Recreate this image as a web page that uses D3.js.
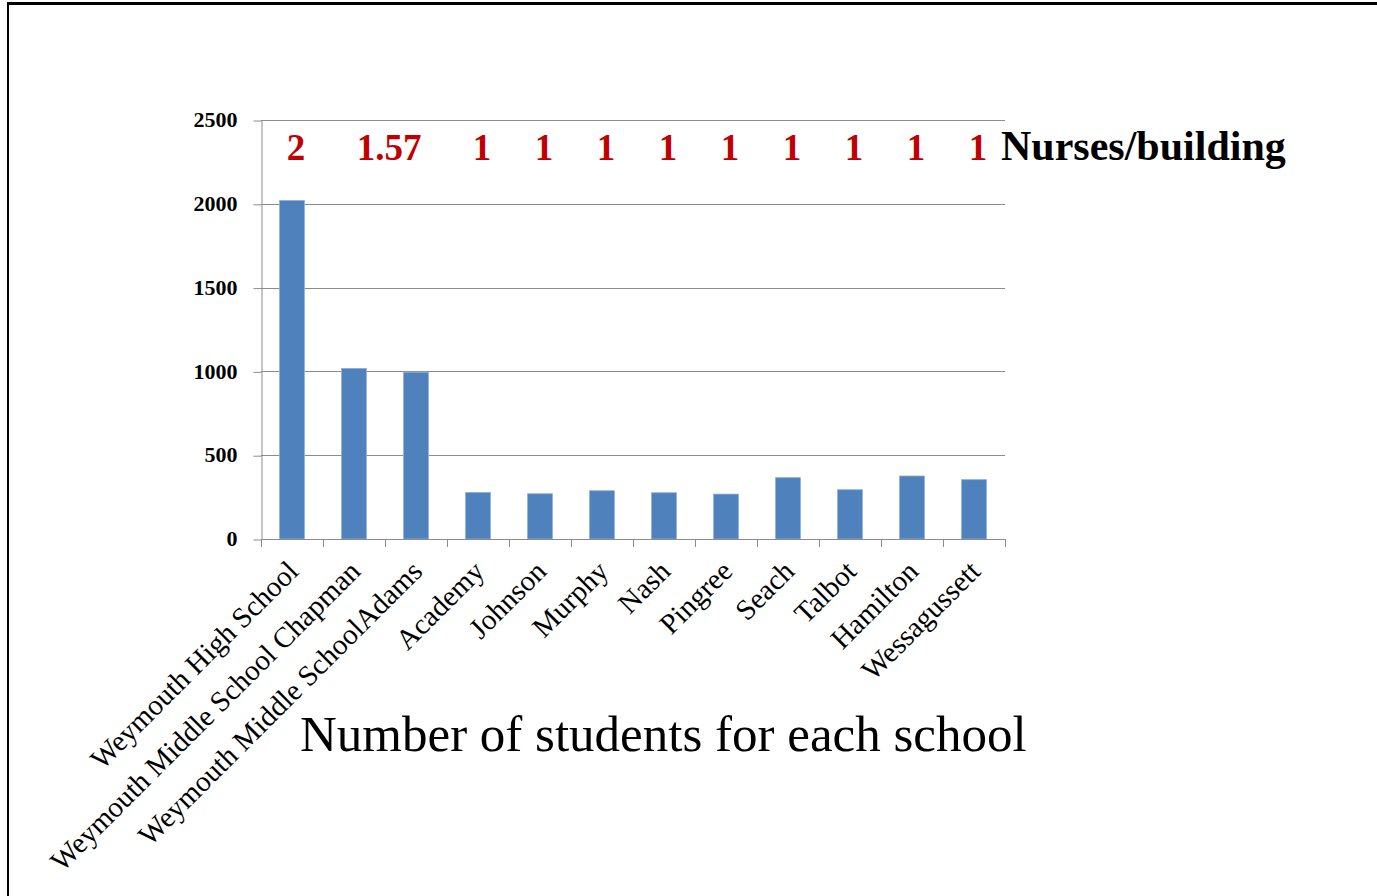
<!DOCTYPE html>
<html>
<head>
<meta charset="utf-8">
<script src="https://cdn.jsdelivr.net/npm/d3@7"></script>
<style>
  body { margin: 0; background: #fff; }
  text { font-family: "Liberation Serif", "DejaVu Serif", serif; }
</style>
</head>
<body>
<div id="chart"></div>
<script>
// Data
const schools = [
    "Weymouth High School", "Weymouth Middle School Chapman", "Weymouth Middle SchoolAdams",
    "Academy", "Johnson", "Murphy", "Nash", "Pingree",
    "Seach", "Talbot", "Hamilton", "Wessagussett"
];
const students = [2020, 1018, 995, 278, 270, 288, 276, 268, 366, 294, 376, 354];
// nurses per building, and which schools each figure sits over
const nurses = ["2", "1.57", "1", "1", "1", "1", "1", "1", "1", "1", "1"];
const nurseGroups = [
    ["Weymouth High School"],
    ["Weymouth Middle School Chapman", "Weymouth Middle SchoolAdams"],
    ["Academy"], ["Johnson"], ["Murphy"], ["Nash"], ["Pingree"],
    ["Seach"], ["Talbot"], ["Hamilton"], ["Wessagussett"]
];
const yTicks = [0, 500, 1000, 1500, 2000, 2500];
const nursesLabel = "Nurses/building";
const chartTitle = "Number of students for each school";

const W = 1377, H = 896;
const plot = {left: 261, right: 1005, top: 120, bottom: 539};

const svg = d3.select("#chart")
    .append("svg")
    .attr("width", W)
    .attr("height", H);

// slide frame
svg.append("line").attr("x1", 7).attr("x2", W).attr("y1", 3.5).attr("y2", 3.5)
    .attr("stroke", "#000").attr("stroke-width", 3);
svg.append("line").attr("x1", 8).attr("x2", 8).attr("y1", 2).attr("y2", H)
    .attr("stroke", "#000").attr("stroke-width", 2);

// Scales
const x = d3.scaleBand()
    .domain(schools)
    .range([plot.left, plot.right])
    .paddingInner(0.6)
    .paddingOuter(0.3);

const y = d3.scaleLinear()
    .domain([0, 2500])
    .range([plot.bottom, plot.top]);

const gridColor = "#8c8c8c";

// gridlines
svg.append("g")
    .selectAll("line")
    .data(yTicks.filter(d => d > 0))
    .join("line")
    .attr("x1", plot.left)
    .attr("x2", plot.right)
    .attr("y1", d => Math.round(y(d)) + 0.5)
    .attr("y2", d => Math.round(y(d)) + 0.5)
    .attr("stroke", gridColor)
    .attr("stroke-width", 1);

// y axis
const yAxis = svg.append("g")
    .attr("transform", `translate(${plot.left + 0.5},0)`)
    .call(d3.axisLeft(y).tickValues(yTicks).tickFormat(d => d)
        .tickSize(8).tickSizeOuter(0).tickPadding(16));
yAxis.select(".domain").attr("stroke", gridColor);
yAxis.selectAll(".tick line").attr("stroke", gridColor)
    .attr("transform", "translate(0,0.5)");
yAxis.selectAll(".tick text")
    .attr("fill", "#000")
    .style("font-family", "'Liberation Serif', serif")
    .style("font-size", "22px")
    .style("font-weight", "bold")
    .attr("dy", "0.3em");

// bars
svg.append("g")
    .selectAll("rect")
    .data(schools)
    .join("rect")
    .attr("x", d => x(d))
    .attr("y", (d, i) => y(students[i]))
    .attr("width", x.bandwidth())
    .attr("height", (d, i) => y(0) - y(students[i]))
    .attr("fill", "#4F81BD")
    .attr("stroke", "#8eaedb")
    .attr("stroke-width", 0.8);

// x axis line + ticks at band boundaries
svg.append("line")
    .attr("x1", plot.left).attr("x2", plot.right)
    .attr("y1", plot.bottom + 0.5).attr("y2", plot.bottom + 0.5)
    .attr("stroke", gridColor);
svg.append("g")
    .selectAll("line")
    .data(d3.range(schools.length + 1))
    .join("line")
    .attr("x1", i => Math.round(plot.left + i * x.step()) + 0.5)
    .attr("x2", i => Math.round(plot.left + i * x.step()) + 0.5)
    .attr("y1", plot.bottom)
    .attr("y2", plot.bottom + 8)
    .attr("stroke", gridColor);

// category labels, rotated
svg.append("g")
    .selectAll("text")
    .data(schools)
    .join("text")
    .attr("transform", d => `translate(${x(d) + x.bandwidth() / 2 + 8},${plot.bottom + 34}) rotate(-45)`)
    .attr("text-anchor", "end")
    .style("font-size", "29px")
    .attr("fill", "#000")
    .text(d => d);

// nurses per building annotations
svg.append("g")
    .selectAll("text")
    .data(nurses)
    .join("text")
    .attr("x", (d, i) => d3.mean(nurseGroups[i], s => x(s) + x.bandwidth() / 2) + 4)
    .attr("y", 160)
    .attr("text-anchor", "middle")
    .style("font-size", "37px")
    .style("font-weight", "bold")
    .attr("fill", "#C00000")
    .text(d => d);

svg.append("text")
    .attr("x", 1001)
    .attr("y", 160)
    .style("font-size", "42px")
    .style("font-weight", "bold")
    .attr("fill", "#000")
    .text(nursesLabel);

// title under the chart
svg.append("text")
    .attr("x", 300)
    .attr("y", 751)
    .style("font-size", "51px")
    .attr("fill", "#000")
    .text(chartTitle);
</script>
</body>
</html>
